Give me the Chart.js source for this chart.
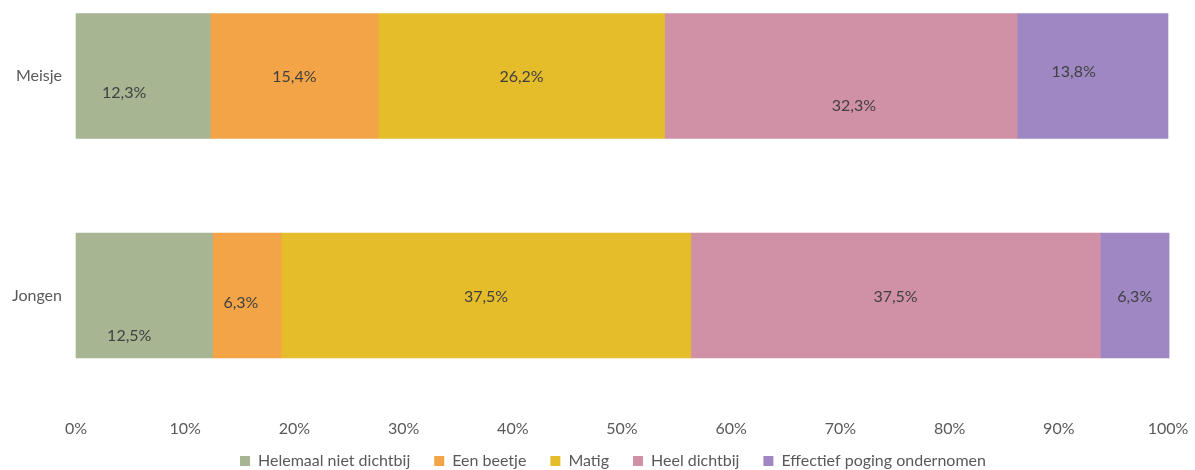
<!DOCTYPE html>
<html lang="nl">
<head>
<meta charset="utf-8">
<title>Dichtbij een poging</title>
<script src="https://cdn.jsdelivr.net/npm/chart.js@4/dist/chart.umd.min.js"></script>
<style>
  html, body { margin: 0; padding: 0; background: #ffffff; }
  #wrap { width: 1195px; height: 470px; position: relative; }
</style>
</head>
<body>
<div id="wrap"><canvas id="chart" width="1195" height="470"></canvas></div>
<script>
// Groups (rows of the stacked bar)
const groups = ['Meisje', 'Jongen'];

// Answer categories, in stacking order
const answers = ['Helemaal niet dichtbij', 'Een beetje', 'Matig', 'Heel dichtbij', 'Effectief poging ondernomen'];

// Share per answer, in percent: [Meisje, Jongen]
const helemaalNietDichtbij = [12.3, 12.5];
const eenBeetje            = [15.4, 6.3];
const matig                = [26.2, 37.5];
const heelDichtbij         = [32.3, 37.5];
const effectiefPoging      = [13.8, 6.3];

// Axis tick values
const xTicks = [0, 10, 20, 30, 40, 50, 60, 70, 80, 90, 100];

const seriesValues = [helemaalNietDichtbij, eenBeetje, matig, heelDichtbij, effectiefPoging];
const seriesColors = ['#A7B592', '#F3A446', '#E5BC2A', '#D090A5', '#9E87C2'];

// Nudges (px) for the value labels: [series][group] -> [dx, dy]
const labelNudge = [
  [[-19, 17], [-15, 40]],
  [[0, 1], [-6, 7]],
  [[0, 1], [0, 1]],
  [[13, 30], [0, 1]],
  [[-19, -4], [0, 1]]
];

const FONT = 'Lato, "Open Sans", sans-serif';
const fmt = v => v.toFixed(1).replace('.', ',') + '%';

// Value labels inside the bar segments
const valueLabels = {
  id: 'valueLabels',
  afterDatasetsDraw(chart) {
    const ctx = chart.ctx;
    ctx.save();
    ctx.font = '16px ' + FONT;
    ctx.fillStyle = '#404040';
    ctx.textAlign = 'center';
    ctx.textBaseline = 'middle';
    chart.data.datasets.forEach((ds, si) => {
      const meta = chart.getDatasetMeta(si);
      meta.data.forEach((bar, gi) => {
        const p = bar.getProps(['x', 'y', 'base'], true);
        const n = labelNudge[si][gi];
        ctx.fillText(fmt(ds.data[gi]), (p.x + p.base) / 2 + n[0], p.y + n[1]);
      });
    });
    ctx.restore();
  }
};

// Pull the legend row up closer to the axis labels and a bit to the left
const legendShift = {
  id: 'legendShift',
  afterLayout(chart) {
    const lg = chart.legend;
    if (!lg) return;
    lg.top -= 10.5;
    lg.left -= 9; lg.right -= 9;
  }
};

new Chart(document.getElementById('chart'), {
  type: 'bar',
  data: {
    labels: groups,
    datasets: answers.map((name, i) => ({
      label: name,
      data: seriesValues[i],
      backgroundColor: seriesColors[i],
      borderWidth: 0,
      barThickness: 125,
      clip: false
    }))
  },
  options: {
    indexAxis: 'y',
    responsive: false,
    animation: false,
    events: [],
    layout: { padding: { left: 0, right: 27, top: 76, bottom: 0 } },
    scales: {
      x: {
        stacked: true,
        min: 0,
        max: 100,
        afterBuildTicks(scale) { scale.ticks = xTicks.map(v => ({ value: v })); },
        afterFit(scale) {
          scale.height = 144;
          scale.paddingLeft = 0;
          scale.paddingRight = 0;
        },
        grid: { display: false, drawTicks: false },
        border: { display: false },
        ticks: {
          padding: 124,
          maxRotation: 0,
          color: '#595959',
          font: { family: FONT, size: 16 },
          callback: v => v + '%'
        }
      },
      y: {
        stacked: true,
        offset: false,
        afterFit(scale) { scale.width = 76; },
        grid: { display: false, drawTicks: false },
        border: { display: false },
        ticks: {
          padding: 14,
          color: '#595959',
          font: { family: FONT, size: 16 }
        }
      }
    },
    plugins: {
      legend: {
        position: 'bottom',
        fullSize: false,
        maxHeight: 30.5,
        labels: {
          boxWidth: 10,
          boxHeight: 10,
          padding: 24,
          color: '#595959',
          font: { family: FONT, size: 16 }
        }
      },
      tooltip: { enabled: false }
    }
  },
  plugins: [valueLabels, legendShift]
});
</script>
</body>
</html>
